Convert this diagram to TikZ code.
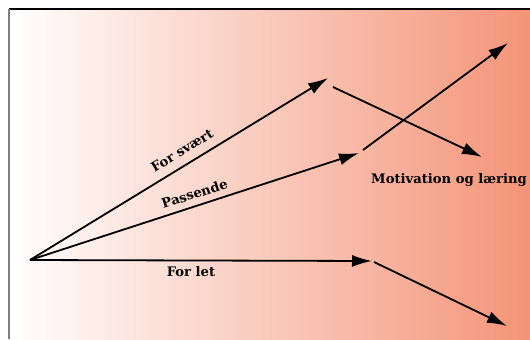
\documentclass[tikz,border=0pt]{standalone}
\usepackage{fontspec}
\setmainfont{DejaVu Serif}
\usetikzlibrary{arrows.meta}
\definecolor{salmon}{RGB}{244,148,120}
\begin{document}
\begin{tikzpicture}[x=1bp,y=-1bp,
  vec/.style={line width=1.8bp, -{Latex[length=20bp,width=12bp]}},
  lbl/.style={font=\fontsize{13.2}{15}\selectfont\bfseries, inner sep=1bp}]
\useasboundingbox (0,0) rectangle (530,339);
% background panel
\shade[left color=white, right color=salmon] (9,9) rectangle (530,339);
\draw[black, line width=1.2bp] (9,9) -- (530,9);
\draw[gray, line width=1.5bp] (9,9) -- (9,339);
% end points
\coordinate (O) at (30,260);
\coordinate (hard) at (328,78);
\coordinate (fit) at (359,153);
\coordinate (easy) at (372,261);
\coordinate (hardS) at (333,87);
\coordinate (hardE) at (482,157);
\coordinate (fitS) at (363,150);
\coordinate (fitE) at (508,43);
\coordinate (easyS) at (374,262);
\coordinate (easyE) at (507,326);
% arrows
\draw[vec] (O) -- (hard);
\draw[vec] (O) -- (fit);
\draw[vec] (O) -- (easy);
\draw[vec] (hardS) -- (hardE);
\draw[vec] (fitS) -- (fitE);
\draw[vec] (easyS) -- (easyE);
% labels
\node[lbl, rotate=31.4] (lhard) at (182,150.5) {For svært};
\node[lbl, rotate=17.9] (lfit) at (194.5,193.5) {Passende};
\node[lbl] (leasy) at (191,272) {For let};
\node[lbl] (lgoal) at (449,180) {Motivation og læring};
\end{tikzpicture}
\end{document}
